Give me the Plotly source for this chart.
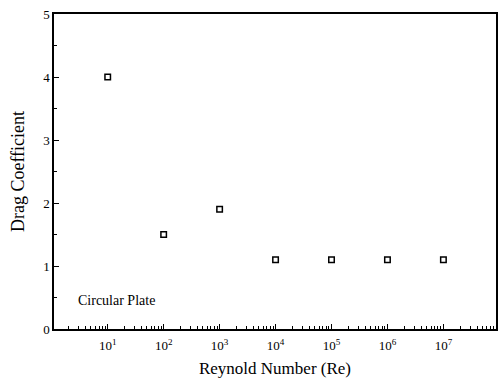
import plotly.graph_objects as go

reynolds = [1e1, 1e2, 1e3, 1e4, 1e5, 1e6, 1e7]
drag_coeff = [4.0, 1.5, 1.9, 1.1, 1.1, 1.1, 1.1]
x_tick_vals = [1e1, 1e2, 1e3, 1e4, 1e5, 1e6, 1e7]
x_tick_text = ["10<sup>1</sup>", "10<sup>2</sup>", "10<sup>3</sup>", "10<sup>4</sup>",
               "10<sup>5</sup>", "10<sup>6</sup>", "10<sup>7</sup>"]
y_tick_vals = [0, 1, 2, 3, 4, 5]

minor_x = [m * 10 ** e for e in range(0, 8) for m in range(2, 10)]

font = "Liberation Serif, Times New Roman, serif"

fig = go.Figure()
fig.add_trace(go.Scatter(
    x=reynolds, y=drag_coeff, mode="markers",
    marker=dict(symbol="square-open", size=5.5, color="black", line=dict(width=1.5)),
    showlegend=False,
))

fig.add_annotation(x=0.44, y=0.46, xref="x", yref="y", text="Circular Plate",
                   showarrow=False, xanchor="left", yanchor="middle",
                   font=dict(family=font, size=14, color="black"))

fig.update_layout(
    width=499, height=385,
    margin=dict(l=54, r=1, t=14, b=56),
    paper_bgcolor="white", plot_bgcolor="white",
    font=dict(family=font, color="black", size=13),
    xaxis=dict(
        type="log", range=[0.04, 7.94],
        tickvals=x_tick_vals, ticktext=x_tick_text,
        ticks="inside", ticklen=5, tickwidth=1, tickcolor="black",
        ticklabelstandoff=4,
        showline=True, linecolor="black", linewidth=1.5, mirror=True,
        showgrid=False, zeroline=False,
        minor=dict(tickvals=minor_x, ticks="inside", ticklen=3, tickcolor="black", tickwidth=1, showgrid=False),
        title=dict(text="Reynold Number (Re)", font=dict(family=font, size=17), standoff=10),
        tickfont=dict(family=font, size=13),
    ),
    yaxis=dict(
        range=[0, 5], tickvals=y_tick_vals,
        ticks="inside", ticklen=5, tickwidth=1, tickcolor="black",
        showline=True, linecolor="black", linewidth=1.5, mirror=True,
        showgrid=False, zeroline=False,
        minor=dict(dtick=0.5, ticks="inside", ticklen=3, tickcolor="black", tickwidth=1, showgrid=False),
        title=dict(text="Drag Coefficient", font=dict(family=font, size=18), standoff=14),
        tickfont=dict(family=font, size=13),
    ),
)

fig.write_html("out.html")
